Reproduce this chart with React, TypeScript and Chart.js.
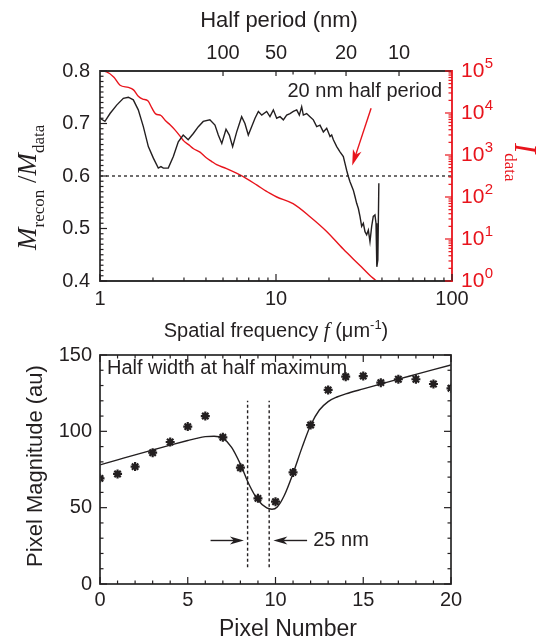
import React, { useEffect, useRef } from 'react';
import { Chart, registerables } from 'chart.js';
Chart.register(...registerables);

// ---------- Top panel data ----------
const freqM = [1.0, 1.067, 1.14, 1.244, 1.357, 1.449, 1.546, 1.65, 1.763, 1.882, 2.01, 2.144, 2.22, 2.29, 2.443, 2.61, 2.785, 2.97, 3.17, 3.39, 3.62, 3.86, 4.21, 4.5, 4.7, 4.92, 5.2, 5.43, 5.67, 5.98, 6.38, 6.66, 6.96, 7.27, 7.6, 7.94, 8.3, 8.85, 9.24, 9.66, 10.09, 10.54, 11.01, 11.5, 12.01, 12.55, 13.11, 13.57, 13.99, 14.3, 14.93, 15.6, 16.3, 17.03, 17.78, 18.58, 19.41, 20.28, 20.72, 21.18, 22.13, 23.1, 24.13, 24.66, 25.2, 25.76, 26.33, 27.5, 28.1, 28.73, 29.37, 30.0, 30.67, 31.35, 32.04, 32.75, 33.47, 34.2, 34.96, 35.7, 36.5, 37.0, 37.4, 37.9, 38.4];
const ratioM = [0.710, 0.704, 0.719, 0.735, 0.748, 0.750, 0.745, 0.726, 0.694, 0.656, 0.634, 0.615, 0.618, 0.615, 0.615, 0.637, 0.665, 0.678, 0.669, 0.681, 0.694, 0.704, 0.707, 0.697, 0.678, 0.662, 0.689, 0.678, 0.656, 0.684, 0.713, 0.700, 0.678, 0.694, 0.710, 0.723, 0.716, 0.723, 0.713, 0.726, 0.710, 0.713, 0.707, 0.716, 0.719, 0.723, 0.726, 0.716, 0.732, 0.716, 0.719, 0.713, 0.707, 0.694, 0.697, 0.684, 0.691, 0.675, 0.678, 0.669, 0.656, 0.646, 0.637, 0.624, 0.611, 0.599, 0.589, 0.573, 0.561, 0.548, 0.538, 0.523, 0.504, 0.510, 0.494, 0.488, 0.497, 0.475, 0.504, 0.523, 0.526, 0.510, 0.427, 0.440, 0.586];
const freqI = [1.0, 1.09, 1.2, 1.3, 1.45, 1.55, 1.65, 1.75, 1.87, 1.97, 2.07, 2.22, 2.35, 2.5, 2.65, 2.85, 3.0, 3.2, 3.4, 3.7, 4.0, 4.3, 4.6, 5.2, 6.0, 6.8, 7.8, 9.2, 10.1, 12.5, 15.6, 19.4, 24.1, 30.0, 34.2, 36.5, 37.2];
const intensityI = [100000, 95500, 70800, 45700, 40700, 35500, 25100, 21400, 19500, 13200, 9550, 8710, 6610, 5250, 4070, 2820, 2140, 1740, 1410, 1170, 871, 708, 589, 479, 363, 275, 191, 123, 100, 69.2, 33.9, 15.1, 5.75, 2.34, 1.35, 1.07, 1.0];

const freqTicks = [1, 10, 100];
const ratioTicks = [0.4, 0.5, 0.6, 0.7, 0.8];
const intensityExponents = [0, 1, 2, 3, 4, 5];
const halfPeriodLabeled = [100, 50, 20, 10];
const halfPeriodMinor = [40, 30];
const HALF_PERIOD_FACTOR = 500; // half period (nm) = 500 / f (um^-1)
const thresholdRatio = 0.6;
const arrowTail = { f: 34.7, m: 0.729 };
const arrowHead = { f: 27.1, m: 0.62 };

// ---------- Bottom panel data ----------
const pixelNumber = [0, 1, 2, 3, 4, 5, 6, 7, 8, 9, 10, 11, 12, 13, 14, 15, 16, 17, 18, 19, 20];
const pixelMagnitude = [69.2, 72.1, 76.9, 86.0, 93.0, 103.1, 110.0, 96.1, 76.2, 56.1, 53.9, 73.1, 104.1, 127.1, 135.8, 136.2, 131.9, 134.1, 134.1, 131.0, 128.2];
const fitX = [0, 1, 2, 3, 4, 5, 5.5, 6, 6.5, 7, 7.5, 8, 8.5, 9, 9.5, 9.8, 10.1, 10.5, 11, 11.5, 12, 12.5, 13, 13.5, 14, 15, 16, 17, 18, 19, 20];
const fitY = [78.0, 81.3, 84.6, 87.8, 91.0, 94.0, 95.4, 96.5, 96.8, 95.5, 89.5, 78.5, 65, 55, 49.8, 49, 50.5, 58, 72.5, 89, 104, 114, 119.5, 122.5, 124.5, 127.8, 131, 134.2, 137.3, 140.4, 143.5];
const pixelTicks = [0, 5, 10, 15, 20];
const magnitudeTicks = [0, 50, 100, 150];
const hwhmLines = [8.41, 9.64];
const hwhmLineRange = [10.9, 120];
const hwhmArrowY = 28.5;
const leftArrow = [6.3, 8.2];
const rightArrow = [11.8, 9.88];

const RED = '#e8141c';
const INK = '#231f20';
const SANS = '"Liberation Sans", Arial, Helvetica, sans-serif';
const SERIF = '"Liberation Serif", "Times New Roman", serif';

type Seg = { text: string; font: string; dy?: number };

function drawRich(ctx: CanvasRenderingContext2D, segs: Seg[], x: number, y: number, angle: number, align: 'start' | 'center', color: string) {
  ctx.save();
  ctx.translate(x, y);
  ctx.rotate(angle);
  ctx.fillStyle = color;
  ctx.textBaseline = 'alphabetic';
  ctx.textAlign = 'left';
  let total = 0;
  const widths = segs.map((s) => { ctx.font = s.font; const w = ctx.measureText(s.text).width; total += w; return w; });
  let cx = align === 'center' ? -total / 2 : 0;
  segs.forEach((s, i) => { ctx.font = s.font; ctx.fillText(s.text, cx, s.dy || 0); cx += widths[i]; });
  ctx.restore();
}

function line(ctx: CanvasRenderingContext2D, x1: number, y1: number, x2: number, y2: number) {
  ctx.beginPath(); ctx.moveTo(x1, y1); ctx.lineTo(x2, y2); ctx.stroke();
}

function arrow(ctx: CanvasRenderingContext2D, x1: number, y1: number, x2: number, y2: number, color: string, len: number, hw: number) {
  const ang = Math.atan2(y2 - y1, x2 - x1);
  ctx.save();
  ctx.strokeStyle = color; ctx.fillStyle = color; ctx.lineWidth = 1.4;
  line(ctx, x1, y1, x2 - Math.cos(ang) * len * 0.7, y2 - Math.sin(ang) * len * 0.7);
  ctx.translate(x2, y2); ctx.rotate(ang);
  ctx.beginPath(); ctx.moveTo(0, 0); ctx.lineTo(-len, -hw); ctx.lineTo(-len * 0.72, 0); ctx.lineTo(-len, hw); ctx.closePath(); ctx.fill();
  ctx.restore();
}

const topDecor = {
  id: 'topDecor',
  afterDatasetsDraw(chart: any) {
    const { ctx, chartArea: a, scales } = chart;
    const x = scales.x, yM = scales.yM, yI = scales.yI;
    ctx.save();
    ctx.strokeStyle = INK; ctx.lineWidth = 1.3; ctx.setLineDash([3, 3]);
    const ty = yM.getPixelForValue(thresholdRatio);
    line(ctx, a.left, ty, a.right, ty);
    ctx.setLineDash([]);
    ctx.lineWidth = 1.8; ctx.strokeStyle = '#333';
    ctx.beginPath(); ctx.moveTo(a.right, a.top); ctx.lineTo(a.left, a.top); ctx.lineTo(a.left, a.bottom); ctx.lineTo(a.right, a.bottom); ctx.stroke();
    ctx.strokeStyle = RED; line(ctx, a.right, a.top - 1, a.right, a.bottom + 1);
    ctx.lineWidth = 1.2; ctx.strokeStyle = INK;
    for (let i = 40; i <= 80; i++) {
      const py = yM.getPixelForValue(i / 100);
      line(ctx, a.left, py, a.left + (i % 10 === 0 ? 7 : 3.5), py);
    }
    for (let e = 0; e <= 2; e++) {
      for (let m = 1; m <= 9; m++) {
        const v = m * Math.pow(10, e);
        if (v > 100) break;
        const px = x.getPixelForValue(v);
        line(ctx, px, a.bottom, px, a.bottom - (m === 1 ? 7 : 3.5));
      }
    }
    [...halfPeriodLabeled, ...halfPeriodMinor].forEach((hp) => {
      const px = x.getPixelForValue(HALF_PERIOD_FACTOR / hp);
      line(ctx, px, a.top, px, a.top + (halfPeriodLabeled.includes(hp) ? 5 : 3.5));
    });
    ctx.strokeStyle = RED; ctx.fillStyle = RED;
    for (let e = 0; e <= 5; e++) {
      for (let m = 1; m <= 9; m++) {
        const v = m * Math.pow(10, e);
        if (v > 1e5) break;
        const py = yI.getPixelForValue(v);
        line(ctx, a.right, py, a.right - (m === 1 ? 7 : 3.5), py);
      }
    }
    ctx.textAlign = 'left'; ctx.textBaseline = 'middle';
    intensityExponents.forEach((e) => {
      const py = yI.getPixelForValue(Math.pow(10, e));
      ctx.font = `21px ${SANS}`;
      ctx.fillText('10', a.right + 9, py);
      const w = ctx.measureText('10').width;
      ctx.font = `15px ${SANS}`;
      ctx.fillText(String(e), a.right + 9 + w + 0.5, py - 7);
    });
    arrow(ctx, x.getPixelForValue(arrowTail.f), yM.getPixelForValue(arrowTail.m), x.getPixelForValue(arrowHead.f), yM.getPixelForValue(arrowHead.m), RED, 16, 4.5);
    ctx.fillStyle = INK; ctx.font = `20px ${SANS}`; ctx.textAlign = 'right'; ctx.textBaseline = 'alphabetic';
    ctx.fillText('20 nm half period', a.right - 10, a.top + 26);
    ctx.textAlign = 'center'; ctx.textBaseline = 'middle'; ctx.font = `22px ${SANS}`;
    ctx.fillText('Half period (nm)', 279, 21);
    drawRich(ctx, [
      { text: 'Spatial frequency ', font: `20px ${SANS}` },
      { text: 'f', font: `italic 21px ${SERIF}` },
      { text: ' (\u03bcm', font: `20px ${SANS}` },
      { text: '-1', font: `13px ${SANS}`, dy: -8 },
      { text: ')', font: `20px ${SANS}` },
    ], 276, 337, 0, 'center', INK);
    drawRich(ctx, [
      { text: 'M', font: `italic 27px ${SERIF}` },
      { text: 'recon', font: `17px ${SERIF}`, dy: 8 },
      { text: ' /', font: `27px ${SERIF}` },
      { text: 'M', font: `italic 27px ${SERIF}` },
      { text: 'data', font: `17px ${SERIF}`, dy: 8 },
    ], 36, 250, -Math.PI / 2, 'start', INK);
    drawRich(ctx, [
      { text: 'I', font: `italic 31px ${SERIF}` },
      { text: 'data', font: `17px ${SERIF}`, dy: 10 },
    ], 515, 143, Math.PI / 2, 'start', RED);
    ctx.restore();
  },
};

const bottomDecor = {
  id: 'bottomDecor',
  afterDatasetsDraw(chart: any) {
    const { ctx, chartArea: a, scales } = chart;
    const x = scales.x, y = scales.y;
    ctx.save();
    ctx.lineWidth = 1.8; ctx.strokeStyle = '#333';
    ctx.strokeRect(a.left, a.top, a.right - a.left, a.bottom - a.top);
    ctx.lineWidth = 1.2; ctx.strokeStyle = INK;
    for (let i = 0; i <= 20; i++) {
      const px = x.getPixelForValue(i);
      const len = i % 5 === 0 ? 7 : 3.5;
      line(ctx, px, a.bottom, px, a.bottom - len);
      line(ctx, px, a.top, px, a.top + len);
    }
    for (let v = 0; v <= 150; v += 10) {
      const py = y.getPixelForValue(v);
      const len = v % 50 === 0 ? 7 : 3.5;
      line(ctx, a.left, py, a.left + len, py);
      line(ctx, a.right, py, a.right - len, py);
    }
    ctx.setLineDash([3, 2.5]); ctx.lineWidth = 1.4;
    hwhmLines.forEach((v) => {
      const px = x.getPixelForValue(v);
      line(ctx, px, y.getPixelForValue(hwhmLineRange[0]), px, y.getPixelForValue(hwhmLineRange[1]));
    });
    ctx.setLineDash([]);
    const ay = y.getPixelForValue(hwhmArrowY);
    arrow(ctx, x.getPixelForValue(leftArrow[0]), ay, x.getPixelForValue(leftArrow[1]), ay, INK, 14, 4);
    arrow(ctx, x.getPixelForValue(rightArrow[0]), ay, x.getPixelForValue(rightArrow[1]), ay, INK, 14, 4);
    ctx.fillStyle = INK; ctx.font = `20px ${SANS}`; ctx.textAlign = 'left'; ctx.textBaseline = 'middle';
    ctx.fillText('25 nm', x.getPixelForValue(12.15), ay);
    ctx.fillText('Half width at half maximum', a.left + 7, a.top + 13);
    ctx.font = `23px ${SANS}`; ctx.textAlign = 'center'; ctx.textBaseline = 'alphabetic';
    ctx.fillText('Pixel Number', 288, 636);
    drawRich(ctx, [{ text: 'Pixel Magnitude (au)', font: `22px ${SANS}` }], 42, 466, -Math.PI / 2, 'center', INK);
    ctx.restore();
  },
};

export default function App() {
  const topRef = useRef<HTMLCanvasElement>(null);
  const botRef = useRef<HTMLCanvasElement>(null);

  useEffect(() => {
    const tickFont = { family: SANS, size: 20 };
    const noGrid = { display: false, drawTicks: false };
    const top = new Chart(topRef.current as HTMLCanvasElement, {
      type: 'line',
      data: {
        datasets: [
          { data: freqM.map((f, i) => ({ x: f, y: ratioM[i] })), xAxisID: 'x', yAxisID: 'yM', borderColor: INK, borderWidth: 1.4, pointRadius: 0, tension: 0, fill: false },
          { data: freqI.map((f, i) => ({ x: f, y: intensityI[i] })), xAxisID: 'x', yAxisID: 'yI', borderColor: RED, borderWidth: 1.4, pointRadius: 0, cubicInterpolationMode: 'monotone', fill: false },
        ],
      },
      options: {
        responsive: false, animation: false, devicePixelRatio: 1,
        layout: { padding: 0 },
        plugins: { legend: { display: false }, tooltip: { enabled: false } },
        scales: {
          x: {
            type: 'logarithmic', position: 'bottom', min: 1, max: 100,
            grid: noGrid, border: { display: false },
            ticks: { autoSkip: false, maxRotation: 0, padding: 6, color: INK, font: tickFont, callback: (v: any) => String(v) },
            afterBuildTicks: (s: any) => { s.ticks = freqTicks.map((v) => ({ value: v })); },
            afterFit: (s: any) => { s.height = 360; },
          },
          xTop: {
            type: 'logarithmic', position: 'top', min: 1, max: 100,
            grid: noGrid, border: { display: false },
            ticks: { autoSkip: false, maxRotation: 0, padding: 6, color: INK, font: tickFont, callback: (v: any) => String(Math.round(HALF_PERIOD_FACTOR / v)) },
            afterBuildTicks: (s: any) => { s.ticks = halfPeriodLabeled.map((hp) => ({ value: HALF_PERIOD_FACTOR / hp })); },
            afterFit: (s: any) => { s.height = 71; },
          },
          yM: {
            type: 'linear', position: 'left', min: 0.4, max: 0.8,
            grid: noGrid, border: { display: false },
            ticks: { padding: 10, color: INK, font: tickFont, callback: (v: any) => Number(v).toFixed(1) },
            afterBuildTicks: (s: any) => { s.ticks = ratioTicks.map((v) => ({ value: v })); },
            afterFit: (s: any) => { s.width = 100; },
          },
          yI: {
            type: 'logarithmic', position: 'right', min: 1, max: 100000,
            grid: noGrid, border: { display: false },
            ticks: { display: false },
            afterFit: (s: any) => { s.width = 85; },
          },
        },
      } as any,
      plugins: [topDecor],
    });

    const bottom = new Chart(botRef.current as HTMLCanvasElement, {
      type: 'scatter',
      data: {
        datasets: [
          { data: fitX.map((v, i) => ({ x: v, y: fitY[i] })), showLine: true, borderColor: INK, borderWidth: 1.4, pointRadius: 0, cubicInterpolationMode: 'monotone', fill: false },
          { data: pixelNumber.map((v, i) => ({ x: v, y: pixelMagnitude[i] })), showLine: false, pointStyle: 'star', pointRadius: 4.5, borderWidth: 2.2, borderColor: INK, backgroundColor: INK },
        ],
      },
      options: {
        responsive: false, animation: false, devicePixelRatio: 1,
        layout: { padding: { top: 355, right: 86, left: 0, bottom: 0 } },
        plugins: { legend: { display: false }, tooltip: { enabled: false } },
        scales: {
          x: {
            type: 'linear', position: 'bottom', min: 0, max: 20,
            grid: noGrid, border: { display: false },
            ticks: { autoSkip: false, maxRotation: 0, padding: 4, color: INK, font: tickFont },
            afterBuildTicks: (s: any) => { s.ticks = pixelTicks.map((v) => ({ value: v })); },
            afterFit: (s: any) => { s.height = 57; },
          },
          y: {
            type: 'linear', position: 'left', min: 0, max: 150,
            grid: noGrid, border: { display: false },
            ticks: { padding: 8, color: INK, font: tickFont },
            afterBuildTicks: (s: any) => { s.ticks = magnitudeTicks.map((v) => ({ value: v })); },
            afterFit: (s: any) => { s.width = 100; },
          },
        },
      } as any,
      plugins: [bottomDecor],
    });

    return () => { top.destroy(); bottom.destroy(); };
  }, []);

  const cs: React.CSSProperties = { position: 'absolute', left: 0, top: 0 };
  return (
    <div style={{ position: 'absolute', left: 0, top: 0, width: 537, height: 641, background: '#fff' }}>
      <canvas ref={topRef} width={537} height={641} style={cs} />
      <canvas ref={botRef} width={537} height={641} style={cs} />
    </div>
  );
}
